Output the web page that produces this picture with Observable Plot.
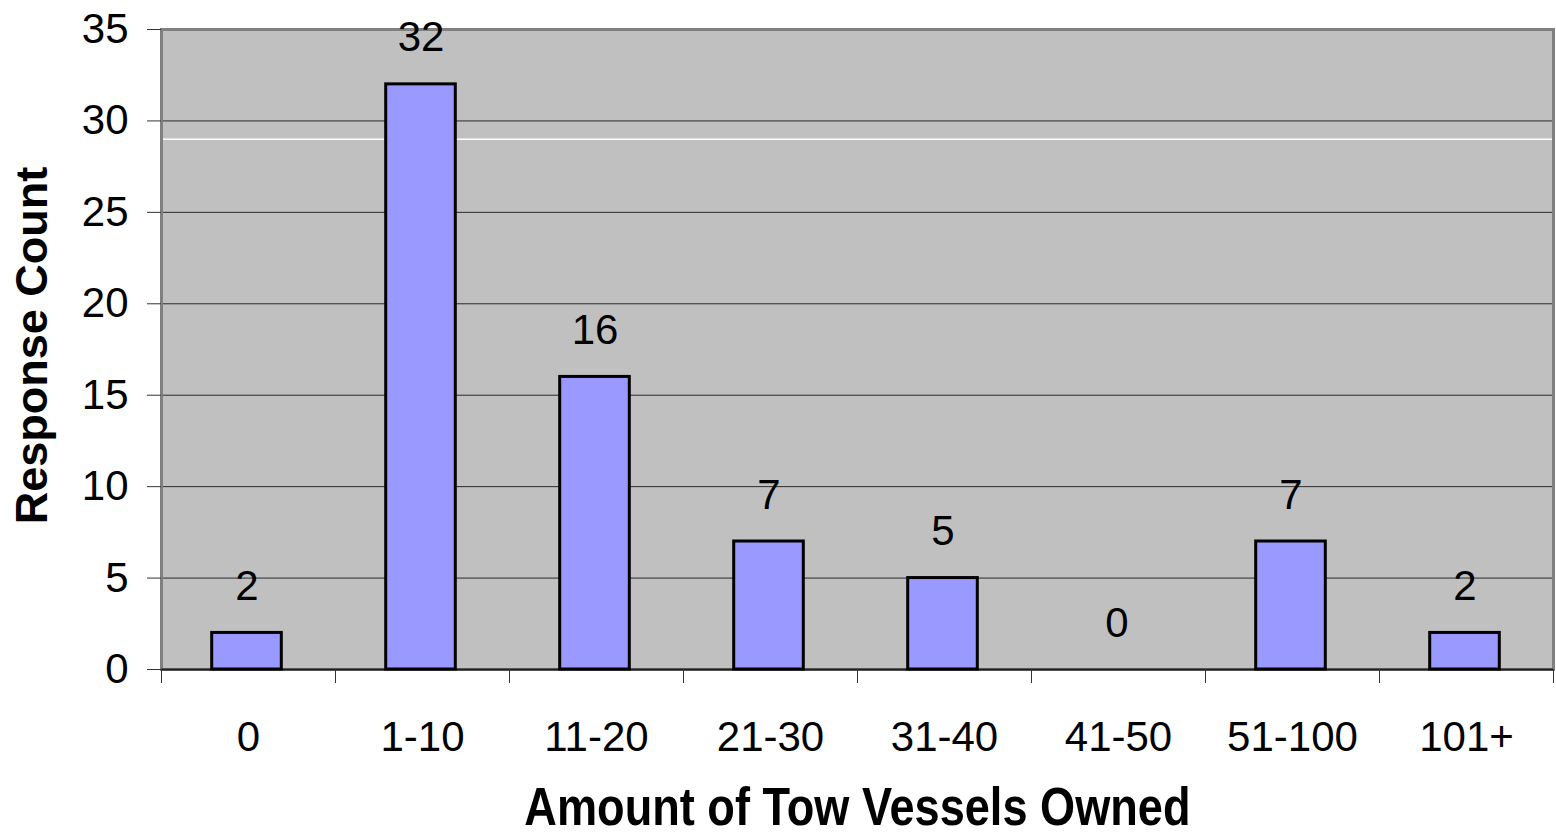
<!DOCTYPE html>
<html>
<head>
<meta charset="utf-8">
<script src="https://cdn.jsdelivr.net/npm/d3@7"></script>
<script src="https://cdn.jsdelivr.net/npm/@observablehq/plot@0.6"></script>
<style>
  html, body { margin: 0; padding: 0; background: #ffffff; }
  #chart svg { display: block; }
</style>
</head>
<body>
<div id="chart"></div>
<script>
const categories = ["0", "1-10", "11-20", "21-30", "31-40", "41-50", "51-100", "101+"];
const counts = [2, 32, 16, 7, 5, 0, 7, 2];
const yTicks = [0, 5, 10, 15, 20, 25, 30, 35];
const gridTicks = [5, 10, 15, 20, 25, 30];
const whiteLine = [29];
const xTitle = "Amount of Tow Vessels Owned";
const yTitle = "Response Count";

const data = categories.map((c, i) => ({category: c, count: counts[i]}));

const W = 1556, H = 835;
const mL = 161, mR = 3, mT = 29, mB = 166;
const step = (W - mL - mR) / categories.length;

// horizontally condensed title (the reference uses a narrow bold face)
function condense(sx) {
  return function(index, scales, values, dims, context, next) {
    const g = next(index, scales, values, dims, context);
    const cx = dims.marginLeft + (dims.width - dims.marginLeft - dims.marginRight) / 2;
    const prev = g.getAttribute("transform") || "";
    g.setAttribute("transform", `translate(${cx},0) scale(${sx},1) translate(${-cx},0) ${prev}`);
    return g;
  };
}

const chart = Plot.plot({
  width: W,
  height: H,
  marginLeft: mL,
  marginRight: mR,
  marginTop: mT,
  marginBottom: mB,
  style: {fontFamily: "'Liberation Sans', Arial, sans-serif", background: "#ffffff", color: "#000"},
  x: {domain: categories, paddingInner: 0.6, paddingOuter: 0.3, round: false},
  y: {domain: [0, 35]},
  marks: [
    Plot.frame({fill: "#C0C0C0", stroke: "none"}),
    Plot.ruleY(gridTicks, {stroke: "#2a2a2a", strokeWidth: 1}),
    Plot.ruleY(whiteLine, {stroke: "#ffffff", strokeWidth: 1.5}),
    Plot.frame({stroke: "#808080", strokeWidth: 3, fill: "none"}),
    Plot.ruleX([0], {frameAnchor: "left", stroke: "#000", strokeWidth: 1.5}),
    Plot.ruleY([0], {stroke: "#222", strokeWidth: 2}),
    Plot.barY(data, {x: "category", y: "count", fill: "#9999FF", stroke: "#000", strokeWidth: 3, dx: -1.5}),
    Plot.text(data, {x: "category", y: "count", text: d => String(d.count), dy: -33, dx: -1.5, lineAnchor: "bottom", fontSize: 42, fill: "#000"}),
    Plot.axisY(yTicks, {tickSize: 14, tickPadding: 19, fontSize: 42, label: null, stroke: "#333"}),
    Plot.axisX({tickSize: 0, tickPadding: 52, fontSize: 42, label: null}),
    Plot.axisX(categories, {tickSize: 14, text: null, label: null, dx: -step / 2, stroke: "#333"}),
    Plot.axisX(categories.slice(-1), {tickSize: 14, text: null, label: null, dx: step / 2, stroke: "#333"}),
    Plot.text([xTitle], {frameAnchor: "bottom", dy: 155, lineAnchor: "bottom", textAnchor: "middle", text: d => d, fontSize: 54, fontWeight: "bold", fill: "#000", render: condense(0.836)}),
    Plot.text([yTitle], {frameAnchor: "left", dx: -146, dy: -4, rotate: -90, lineAnchor: "top", textAnchor: "middle", text: d => d, fontSize: 45, fontWeight: "bold", fill: "#000"})
  ]
});
document.getElementById("chart").appendChild(chart);
</script>
</body>
</html>
